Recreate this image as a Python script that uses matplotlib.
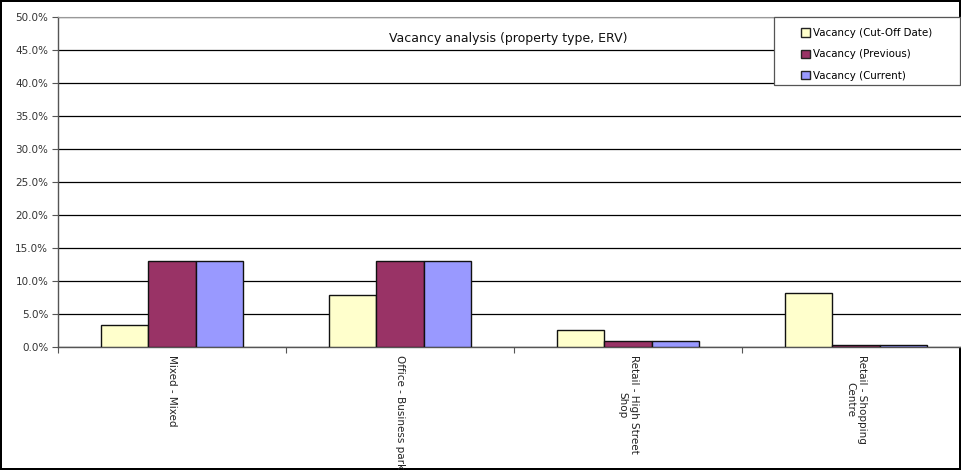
import numpy as np
import matplotlib
matplotlib.use('Agg')
import matplotlib.pyplot as plt
from matplotlib.patches import Rectangle
from matplotlib.ticker import FuncFormatter, FixedLocator

# Vacancy by property type (% of ERV)
categories = ['Mixed - Mixed', 'Office - Business park',
              'Retail - High Street\nShop', 'Retail - Shopping\nCentre']
vac_cutoff = [3.3, 7.9, 2.6, 8.2]
vac_previous = [13.0, 13.0, 0.9, 0.3]
vac_current = [13.0, 13.0, 0.9, 0.3]

series_names = ['Vacancy (Cut-Off Date)', 'Vacancy (Previous)', 'Vacancy (Current)']
colors = ['#FFFFCC', '#993366', '#9999FF']

plt.rcParams['font.family'] = 'DejaVu Sans'

fig = plt.figure(figsize=(9.61, 4.70), dpi=100)
fig.patch.set_edgecolor('black')
fig.patch.set_linewidth(1.5)

# plot area runs slightly past the right edge of the canvas
ax = fig.add_axes([58 / 961, 1 - 347 / 470, 912 / 961, 330 / 470])

x = np.arange(len(categories))
width = 0.209
for i, (vals, name, col) in enumerate(zip([vac_cutoff, vac_previous, vac_current],
                                           series_names, colors)):
    ax.bar(x + (i - 1) * width, vals, width, color=col, edgecolor='#111111',
           linewidth=1.0, label=name, zorder=3)

ax.set_xlim(-0.5, len(categories) - 0.5)
ax.set_ylim(0, 50)
ax.set_yticks(np.arange(0, 50.1, 5))
ax.yaxis.set_major_formatter(FuncFormatter(lambda v, p: f'{v:.1f}%'))
ax.grid(axis='y', color='black', linewidth=0.9, zorder=0)
ax.tick_params(axis='y', labelsize=7.5, labelcolor='#333333', length=4,
               width=0.8, color='#555555', pad=3)

# category labels at centres, tick marks on the boundaries
ax.set_xticks(x)
ax.set_xticklabels(categories, rotation=-90, fontsize=7.5, color='#222222',
                   va='top', ha='center', multialignment='center')
ax.tick_params(axis='x', which='major', length=0, pad=6)
ax.xaxis.set_minor_locator(FixedLocator(np.arange(-0.5, len(categories), 1.0)))
ax.tick_params(axis='x', which='minor', length=4, width=0.8, color='#555555')

for side in ['left', 'bottom']:
    ax.spines[side].set_color('#555555')
    ax.spines[side].set_linewidth(1.0)
ax.spines['top'].set_color('#999999')
ax.spines['right'].set_visible(False)

ax.text(0.5 * 901 / 912, 0.935, 'Vacancy analysis (property type, ERV)',
        transform=ax.transAxes, ha='center', va='center', fontsize=9,
        color='#111111')

# legend box with wide padding around the entries
ax.add_patch(Rectangle((774 / 961, 1 - 85 / 470), 186 / 961, 68 / 470,
                       transform=fig.transFigure, facecolor='white',
                       edgecolor='#555555', linewidth=0.9, zorder=4,
                       clip_on=False))
leg = ax.legend(loc='upper left', bbox_to_anchor=(798 / 961, 1 - 25 / 470),
                bbox_transform=fig.transFigure, fontsize=7.4, frameon=False,
                borderpad=0.3, handlelength=0.85, handleheight=0.85,
                handletextpad=0.35, labelspacing=1.1, borderaxespad=0)
for h in leg.legend_handles:
    h.set_edgecolor('#222222')
leg.set_zorder(6)

fig.savefig('out.png', dpi=100)
